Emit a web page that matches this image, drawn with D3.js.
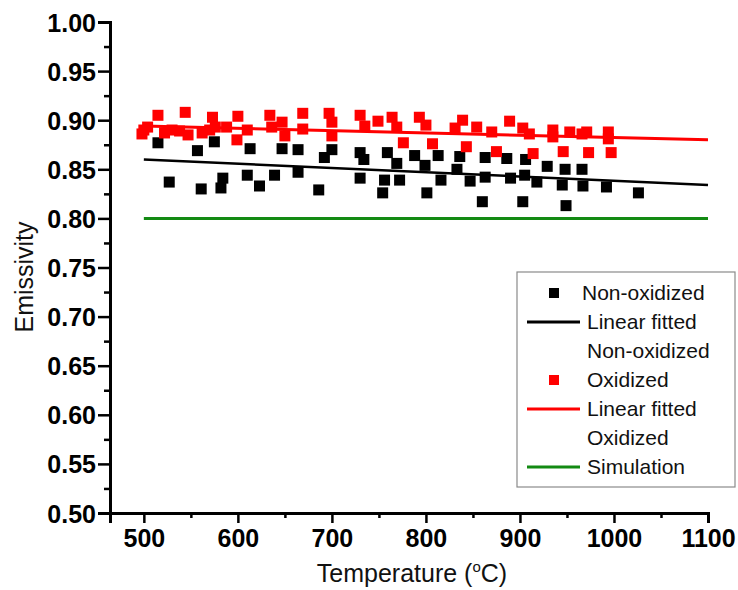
<!DOCTYPE html>
<html>
<head>
<meta charset="utf-8">
<script src="https://cdn.jsdelivr.net/npm/d3@7"></script>
<style>
body{margin:0;background:#fff;}
svg{display:block;font-family:"Liberation Sans",Arial,sans-serif;}
</style>
</head>
<body>
<div id="chart"></div>
<script>
// temperature (C) / emissivity
var blackT = [515,527,557,561,575,584,582,613,610,623,639,647,664,664,686,692,700,730,734,730,759,769,756,772,754,788,799,801,813,816,833,836,847,863,863,860,886,890,905,906,903,918,929,948,945,949,966,967,992,1026];
var blackE = [0.877,0.837,0.869,0.830,0.878,0.841,0.831,0.871,0.844,0.833,0.844,0.871,0.870,0.847,0.829,0.862,0.870,0.867,0.860,0.841,0.867,0.856,0.839,0.839,0.826,0.864,0.854,0.826,0.864,0.839,0.850,0.863,0.838,0.862,0.842,0.817,0.861,0.841,0.844,0.860,0.817,0.837,0.853,0.850,0.834,0.813,0.850,0.833,0.832,0.826];

var redT = [498,500,504,515,522,530,538,544,547,562,570,573,576,588,599,600,610,634,636,647,650,669,669,697,700,700,730,735,749,764,769,776,793,800,807,831,839,843,854,870,875,889,903,910,914,935,935,946,953,966,971,973,994,994,997];
var redE = [0.886,0.890,0.893,0.905,0.887,0.890,0.889,0.908,0.885,0.887,0.890,0.903,0.893,0.893,0.880,0.904,0.890,0.905,0.893,0.898,0.884,0.907,0.891,0.907,0.898,0.884,0.905,0.894,0.899,0.903,0.893,0.877,0.903,0.895,0.876,0.892,0.900,0.873,0.893,0.888,0.868,0.899,0.892,0.886,0.866,0.890,0.883,0.868,0.888,0.886,0.888,0.867,0.888,0.881,0.867];

var fitBlack = [[500,0.860],[1100,0.834]];
var fitRed = [[500,0.894],[1100,0.880]];
var simulation = [[500,0.80],[1100,0.80]];

var xTicks = [500,600,700,800,900,1000,1100];
var xMinor = [550,650,750,850,950,1050];
var yTicks = [0.50,0.55,0.60,0.65,0.70,0.75,0.80,0.85,0.90,0.95,1.00];
var yMinor = [0.525,0.575,0.625,0.675,0.725,0.775,0.825,0.875,0.925,0.975];

var legendItems = [
	{type:"sq", color:"#000", label:["Non-oxidized"], dx:0},
	{type:"ln", color:"#000", label:["Linear fitted","Non-oxidized"], dx:5},
	{type:"sq", color:"#f00", label:["Oxidized"], dx:5},
	{type:"ln", color:"#f00", label:["Linear fitted","Oxidized"], dx:5},
	{type:"ln", color:"#138a13", label:["Simulation"], dx:5}
];

var W = 738, H = 590;
var svg = d3.select("#chart").append("svg").attr("width",W).attr("height",H);

var x = d3.scaleLinear().domain([464,1100]).range([110,708]);
var y = d3.scaleLinear().domain([0.5,1.0]).range([513,22]);

var font = "'Liberation Sans',Arial,sans-serif";

// axes
var gy = svg.append("g").attr("transform","translate(110,0)")
	.call(d3.axisLeft(y).tickValues(yTicks).tickSize(12).tickPadding(2).tickFormat(d3.format(".2f")));
var gy2 = svg.append("g").attr("transform","translate(110,0)")
	.call(d3.axisLeft(y).tickValues(yMinor).tickSize(6).tickFormat(""));
var gx = svg.append("g").attr("transform","translate(0,513)")
	.call(d3.axisBottom(x).tickValues(xTicks).tickSize(10).tickPadding(6).tickFormat(d3.format("d")));
var gx2 = svg.append("g").attr("transform","translate(0,513)")
	.call(d3.axisBottom(x).tickValues(xMinor).tickSize(5).tickFormat(""));

[gy,gy2,gx,gx2].forEach(function(g){
	g.select(".domain").attr("stroke","#000").attr("stroke-width",3);
	g.selectAll(".tick line").attr("stroke","#000").attr("stroke-width",2.5);
	g.selectAll(".tick text").attr("fill","#000").style("font-family",font)
		.style("font-size","25px").style("font-weight","bold");
});
gy2.select(".domain").remove();
gx2.select(".domain").remove();
gy.selectAll(".tick text").attr("dy","0.36em");

// lines
var line = d3.line().x(function(d){return x(d[0])}).y(function(d){return y(d[1])});

svg.append("path").attr("d",line(simulation)).attr("fill","none").attr("stroke","#138a13").attr("stroke-width",3);
svg.append("path").attr("d",line(fitBlack)).attr("fill","none").attr("stroke","#000").attr("stroke-width",2.5);
svg.append("path").attr("d",line(fitRed)).attr("fill","none").attr("stroke","#f00").attr("stroke-width",3);

var s = 11;
svg.selectAll(".blk").data(blackT).enter().append("rect").attr("class","blk")
	.attr("x",function(d){return x(d)-s/2})
	.attr("y",function(d,i){return y(blackE[i])-s/2})
	.attr("width",s).attr("height",s).attr("fill","#000");

svg.selectAll(".red").data(redT).enter().append("rect").attr("class","red")
	.attr("x",function(d){return x(d)-s/2})
	.attr("y",function(d,i){return y(redE[i])-s/2})
	.attr("width",s).attr("height",s).attr("fill","#f00");

// axis titles
svg.append("text").attr("transform","translate(33,277) rotate(-90)")
	.attr("text-anchor","middle").style("font-family",font).style("font-size","25px")
	.attr("fill","#111").text("Emissivity");

var xt = svg.append("text").attr("x",412).attr("y",582).attr("text-anchor","middle")
	.style("font-family",font).style("font-size","25px").attr("fill","#111");
xt.append("tspan").text("Temperature (");
xt.append("tspan").attr("dy",-10).style("font-size","15px").text("o");
xt.append("tspan").attr("dy",10).text("C)");

// legend
var lg = svg.append("g");
lg.append("rect").attr("x",517).attr("y",272).attr("width",218).attr("height",215)
	.attr("fill","#fff").attr("stroke","#8a8a8a").attr("stroke-width",1.2);

var rowY = 293, rowH = 29;
legendItems.forEach(function(d){
	if(d.type=="sq"){
		lg.append("rect").attr("x",549).attr("y",rowY-5).attr("width",10).attr("height",10).attr("fill",d.color);
	} else {
		lg.append("line").attr("x1",527).attr("x2",580).attr("y1",rowY).attr("y2",rowY)
			.attr("stroke",d.color).attr("stroke-width",3);
	}
	d.label.forEach(function(t){
		lg.append("text").attr("x",582+d.dx).attr("y",rowY).attr("dy","0.35em")
			.style("font-family",font).style("font-size","21px").attr("fill","#111").text(t);
		rowY += rowH;
	});
});
</script>
</body>
</html>
